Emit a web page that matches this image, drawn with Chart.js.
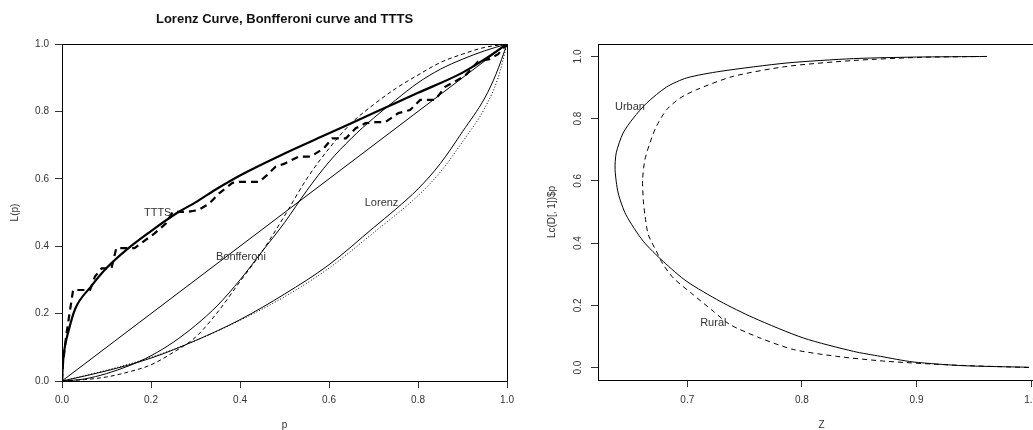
<!DOCTYPE html>
<html>
<head>
<meta charset="utf-8">
<script src="https://cdn.jsdelivr.net/npm/chart.js@4.4.1/dist/chart.umd.min.js"></script>
<style>
html,body{margin:0;padding:0;background:#fff;overflow:hidden;width:1033px;height:430px;}
#left{position:absolute;left:0;top:0;width:520px;height:430px;}
#rightWrap{position:absolute;left:520px;top:0;width:513px;height:430px;overflow:hidden;}
#right{position:absolute;left:0;top:0;width:540px;height:430px;}
</style>
</head>
<body>
<canvas id="left" width="520" height="430"></canvas>
<div id="rightWrap"><canvas id="right" width="540" height="430"></canvas></div>
<script>
// ---------------- data: left panel ----------------
const leftTitle = 'Lorenz Curve, Bonfferoni curve and TTTS';
const pTicks = [0, 0.2, 0.4, 0.6, 0.8, 1.0];
const pTickLabels = ['0.0', '0.2', '0.4', '0.6', '0.8', '1.0'];
const lTicks = [0, 0.2, 0.4, 0.6, 0.8, 1.0];
const lTickLabels = ['0.0', '0.2', '0.4', '0.6', '0.8', '1.0'];

const diagP = [0, 1];
const diagL = [0, 1];

const lorenzP = [0, 0.1, 0.2, 0.3, 0.4, 0.5, 0.6, 0.7, 0.75, 0.8, 0.85, 0.9, 0.95, 0.975, 1.0];
const lorenzL = [0, 0.03, 0.068, 0.12, 0.182, 0.258, 0.345, 0.455, 0.51, 0.57, 0.645, 0.74, 0.84, 0.91, 1.0];

const lorenzEmpP = [0, 0.1, 0.2, 0.3, 0.4, 0.5, 0.6, 0.7, 0.8, 0.85, 0.9, 0.95, 0.98, 1.0];
const lorenzEmpL = [0, 0.032, 0.07, 0.12, 0.18, 0.25, 0.335, 0.44, 0.55, 0.62, 0.71, 0.81, 0.9, 1.0];

const bonfP = [0, 0.05, 0.1, 0.15, 0.2, 0.25, 0.3, 0.35, 0.4, 0.45, 0.5, 0.55, 0.6, 0.65, 0.7, 0.75, 0.8, 0.85, 0.9, 0.95, 1.0];
const bonfL = [0, 0.006, 0.022, 0.045, 0.075, 0.115, 0.165, 0.225, 0.3, 0.385, 0.47, 0.565, 0.65, 0.72, 0.78, 0.834, 0.885, 0.925, 0.955, 0.98, 1.0];

const bonfEmpP = [0, 0.05, 0.1, 0.15, 0.2, 0.25, 0.3, 0.35, 0.4, 0.45, 0.5, 0.55, 0.6, 0.65, 0.7, 0.75, 0.8, 0.85, 0.9, 0.95, 1.0];
const bonfEmpL = [0, 0.004, 0.012, 0.027, 0.048, 0.085, 0.13, 0.205, 0.295, 0.385, 0.49, 0.6, 0.69, 0.765, 0.82, 0.868, 0.908, 0.945, 0.97, 0.99, 1.0];

const tttsP = [0, 0.002, 0.005, 0.015, 0.03, 0.065, 0.1, 0.15, 0.2, 0.26, 0.3, 0.35, 0.4, 0.5, 0.6, 0.7, 0.8, 0.9, 0.95, 1.0];
const tttsL = [0, 0.05, 0.09, 0.15, 0.215, 0.28, 0.335, 0.395, 0.445, 0.5, 0.53, 0.572, 0.61, 0.675, 0.735, 0.795, 0.855, 0.915, 0.955, 1.0];

const tttsEmpP = [0, 0.002, 0.010, 0.018, 0.025, 0.063, 0.074, 0.089, 0.111, 0.122, 0.163, 0.182, 0.208, 0.234, 0.249, 0.283, 0.305, 0.33, 0.353, 0.383, 0.398, 0.443, 0.46, 0.48, 0.50, 0.532, 0.559, 0.588, 0.607, 0.638, 0.66, 0.682, 0.704, 0.726, 0.756, 0.782, 0.805, 0.838, 0.861, 0.905, 0.935, 0.960, 0.980, 1.0];
const tttsEmpL = [0, 0.05, 0.14, 0.21, 0.27, 0.27, 0.31, 0.334, 0.334, 0.394, 0.394, 0.413, 0.438, 0.468, 0.502, 0.502, 0.507, 0.525, 0.557, 0.588, 0.591, 0.591, 0.61, 0.636, 0.645, 0.666, 0.666, 0.69, 0.72, 0.72, 0.75, 0.765, 0.768, 0.768, 0.795, 0.804, 0.834, 0.834, 0.873, 0.905, 0.948, 0.955, 0.97, 1.0];

const leftLabelTexts = ['TTTS', 'Bonfferoni', 'Lorenz'];
const leftLabelP = [0.215, 0.402, 0.718];
const leftLabelL = [0.498, 0.367, 0.527];

// ---------------- data: right panel ----------------
const zTicks = [0.7, 0.8, 0.9, 1.0];
const zTickLabels = ['0.7', '0.8', '0.9', '1.0'];
const vTicks = [0, 0.2, 0.4, 0.6, 0.8, 1.0];
const vTickLabels = ['0.0', '0.2', '0.4', '0.6', '0.8', '1.0'];

const urbanZ = [0.998, 0.941, 0.897, 0.8686, 0.845, 0.8013, 0.7577, 0.7286, 0.6995, 0.679, 0.6616, 0.6465, 0.6397, 0.637, 0.638, 0.644, 0.653, 0.6645, 0.682, 0.6995, 0.7286, 0.787, 0.845, 0.90, 0.9615];
const urbanV = [0.001, 0.006, 0.018, 0.036, 0.052, 0.095, 0.16, 0.213, 0.277, 0.341, 0.406, 0.491, 0.561, 0.636, 0.69, 0.754, 0.802, 0.85, 0.902, 0.931, 0.952, 0.979, 0.993, 0.998, 1.0];

const ruralZ = [0.998, 0.932, 0.874, 0.8305, 0.7926, 0.7635, 0.7373, 0.7227, 0.7052, 0.6878, 0.679, 0.673, 0.666, 0.663, 0.6616, 0.661, 0.663, 0.6674, 0.673, 0.682, 0.6936, 0.708, 0.74, 0.787, 0.845, 0.903, 0.9615];
const ruralV = [0.0, 0.008, 0.02, 0.036, 0.058, 0.095, 0.138, 0.181, 0.234, 0.288, 0.331, 0.374, 0.427, 0.491, 0.54, 0.604, 0.668, 0.722, 0.775, 0.829, 0.866, 0.893, 0.936, 0.968, 0.987, 0.997, 1.0];

const rightLabelTexts = ['Urban', 'Rural'];
const rightLabelZ = [0.65, 0.7227];
const rightLabelV = [0.838, 0.144];

// ---------------- helpers ----------------
const FONT = '"Liberation Sans", Arial, Helvetica, sans-serif';
const zip = (xs, ys) => xs.map((x, i) => ({x: x, y: ys[i]}));

function lineDs(xs, ys, width, dash, mode, tension) {
  return {
    data: zip(xs, ys),
    showLine: true,
    borderColor: '#000',
    backgroundColor: '#000',
    borderWidth: width,
    borderDash: dash,
    pointRadius: 0,
    pointHoverRadius: 0,
    cubicInterpolationMode: mode,
    tension: tension,
    fill: false
  };
}

const boxPlugin = {
  id: 'box',
  afterDatasetsDraw(chart) {
    const a = chart.chartArea, ctx = chart.ctx;
    ctx.save();
    ctx.strokeStyle = '#000';
    ctx.lineWidth = 1;
    ctx.strokeRect(Math.round(a.left) + 0.5, Math.round(a.top) + 0.5, Math.round(a.right - a.left), Math.round(a.bottom - a.top));
    ctx.restore();
  }
};

function labelPlugin(texts, xs, ys) {
  return {
    id: 'curveLabels',
    afterDatasetsDraw(chart) {
      const ctx = chart.ctx, sx = chart.scales.x, sy = chart.scales.y;
      ctx.save();
      ctx.font = '11px ' + FONT;
      ctx.fillStyle = '#333';
      ctx.textAlign = 'center';
      ctx.textBaseline = 'middle';
      texts.forEach((t, i) => ctx.fillText(t, sx.getPixelForValue(xs[i]), sy.getPixelForValue(ys[i])));
      ctx.restore();
    }
  };
}

function axisCommon(ticksArr, labelsArr) {
  return {
    type: 'linear',
    afterBuildTicks: s => { s.ticks = ticksArr.map(v => ({value: v})); },
    grid: {drawOnChartArea: false, drawTicks: true, tickLength: 7, color: '#333', lineWidth: 1},
    border: {display: true, color: '#000', width: 1},
    ticks: {
      color: '#333',
      font: {family: FONT, size: 10},
      padding: 6,
      callback: v => labelsArr[ticksArr.indexOf(v)] !== undefined ? labelsArr[ticksArr.indexOf(v)] : ''
    }
  };
}

// ---------------- left chart ----------------
const lx = axisCommon(pTicks, pTickLabels);
Object.assign(lx, {min: 0, max: 1, position: 'bottom',
  title: {display: true, text: 'p', color: '#333', font: {family: FONT, size: 10, lineHeight: 1}, padding: {top: 0, bottom: 0}},
  afterFit: s => { s.height = 49; }});
lx.ticks.maxRotation = 0; lx.ticks.minRotation = 0;
const ly = axisCommon(lTicks, lTickLabels);
Object.assign(ly, {min: 0, max: 1, position: 'left',
  title: {display: true, text: 'L(p)', color: '#333', font: {family: FONT, size: 10, lineHeight: 1.2}, padding: {top: 9, bottom: 0}},
  afterFit: s => { s.width = 62; }});

new Chart(document.getElementById('left'), {
  type: 'scatter',
  data: {
    datasets: [
      lineDs(diagP, diagL, 1, [], 'default', 0),
      lineDs(lorenzP, lorenzL, 1, [], 'monotone', 0),
      lineDs(lorenzEmpP, lorenzEmpL, 1, [1, 2], 'monotone', 0),
      lineDs(bonfP, bonfL, 1, [], 'monotone', 0),
      lineDs(bonfEmpP, bonfEmpL, 1, [4, 3], 'monotone', 0),
      lineDs(tttsP, tttsL, 2.2, [], 'monotone', 0),
      lineDs(tttsEmpP, tttsEmpL, 2.2, [7, 5], 'default', 0)
    ]
  },
  options: {
    responsive: false,
    animation: false,
    devicePixelRatio: 1,
    layout: {padding: {left: 0, right: 11, top: 0, bottom: 0}},
    plugins: {
      legend: {display: false},
      tooltip: {enabled: false},
      title: {display: true, text: leftTitle, fullSize: false, color: '#111',
        font: {family: FONT, size: 13, weight: 'bold', lineHeight: 1.2},
        padding: {top: 12, bottom: 16.4}}
    },
    scales: {x: lx, y: ly}
  },
  plugins: [boxPlugin, labelPlugin(leftLabelTexts, leftLabelP, leftLabelL)]
});

// ---------------- right chart ----------------
const rx = axisCommon(zTicks, zTickLabels);
Object.assign(rx, {min: 0.6221, max: 1.0121, position: 'bottom',
  title: {display: true, text: 'Z', color: '#333', font: {family: FONT, size: 10, lineHeight: 1}, padding: {top: 0, bottom: 0}},
  afterFit: s => { s.height = 50; }});
rx.ticks.maxRotation = 0; rx.ticks.minRotation = 0; rx.ticks.padding = 7;
const ry = axisCommon(vTicks, vTickLabels);
Object.assign(ry, {min: -0.04, max: 1.04, position: 'left',
  title: {display: true, text: 'Lc(D[, 1])$p', color: '#333', font: {family: FONT, size: 10, lineHeight: 1.2}, padding: {top: 26, bottom: 0}},
  afterFit: s => { s.width = 78; }});
ry.ticks.minRotation = 90; ry.ticks.maxRotation = 90; ry.ticks.crossAlign = 'center'; ry.ticks.padding = 6;

new Chart(document.getElementById('right'), {
  type: 'scatter',
  data: {
    datasets: [
      lineDs(urbanZ, urbanV, 1, [], 'default', 0.25),
      lineDs(ruralZ, ruralV, 1, [5, 4], 'default', 0.25)
    ]
  },
  options: {
    responsive: false,
    animation: false,
    devicePixelRatio: 1,
    layout: {padding: {left: 0, right: 15, top: 44, bottom: 0}},
    plugins: {legend: {display: false}, tooltip: {enabled: false}},
    scales: {x: rx, y: ry}
  },
  plugins: [boxPlugin, labelPlugin(rightLabelTexts, rightLabelZ, rightLabelV)]
});
</script>
</body>
</html>
